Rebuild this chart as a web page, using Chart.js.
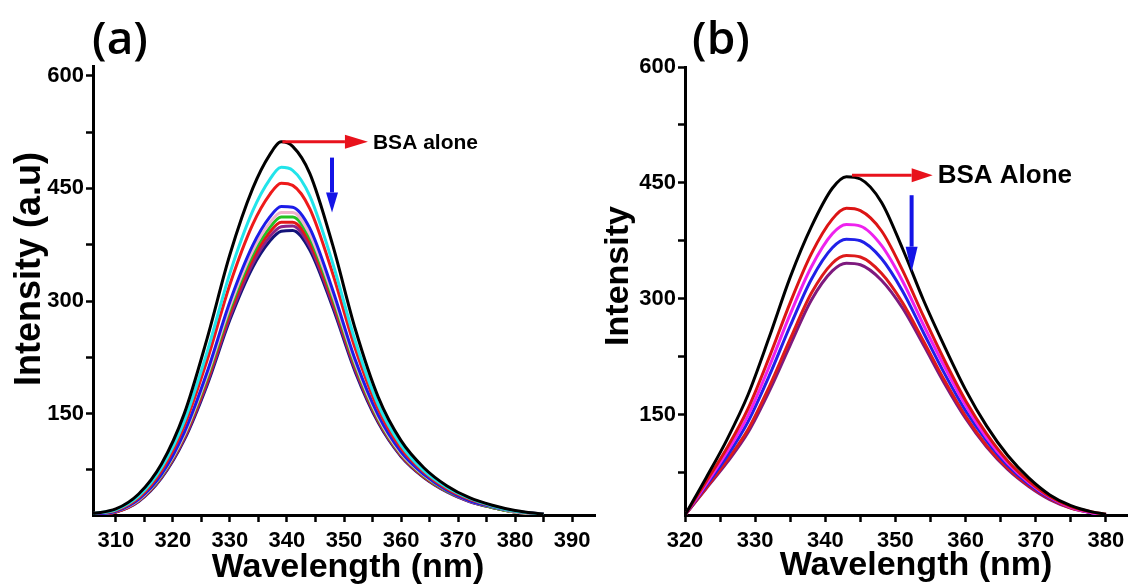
<!DOCTYPE html>
<html><head><meta charset="utf-8">
<script src="https://cdn.jsdelivr.net/npm/chart.js@4.4.1/dist/chart.umd.min.js"></script>
<style>
html,body{margin:0;padding:0;background:#fff;width:1136px;height:587px;overflow:hidden;position:relative}
#ca{position:absolute;left:0;top:0}
#cb{position:absolute;left:576px;top:0}
</style></head><body>
<canvas id="ca" width="600" height="587"></canvas>
<canvas id="cb" width="560" height="587"></canvas>
<script>
// ---------- Panel (a) data ----------
const wlA = [306,310,314,318,322,326,330,334,337,339,341,344,348,352,356,360,364,368,372,376,380,385];
const aBlack  = [17,23,43,83,150,250,362,450,495,512,506,470,375,262,172,114,78,54,38,28,21,16];
const aCyan   = [17,22,40,78,140,232,337,420,462,478,474,440,351,246,162,108,74,52,37,27,20,16];
const aRed    = [17,21,38,74,134,221,322,402,442,457,454,423,337,236,156,104,72,50,36,27,20,16];
const aBlue   = [16,20,36,69,125,205,299,374,412,426,425,397,315,221,148,99,69,48,34,26,20,16];
const aPink   = [16,20,35,68,122,201,293,367,404,418,418,389,309,217,145,97,68,48,34,26,19,16];
const aGreen  = [16,20,35,67,121,198,289,362,398,412,412,384,305,214,143,96,67,47,34,25,19,16];
const aRed2   = [16,19,34,66,119,194,284,356,392,405,405,378,300,211,141,95,66,47,34,25,19,16];
const aPurple = [16,19,34,65,117,191,279,350,386,399,400,373,296,208,140,94,66,46,33,25,19,16];
const aNavy   = [16,19,33,64,115,188,275,345,380,393,394,368,292,205,138,93,65,46,33,25,19,16];
const xTicksA = [310,315,320,325,330,335,340,345,350,355,360,365,370,375,380,385,390];
const yTicksA = [75,150,225,300,375,450,525,600];

// ---------- Panel (b) data ----------
const wlB = [320,323,326,329,332,335,338,341,343,345,348,351,354,357,360,363,366,369,372,375,378,380];
const bBlack   = [20,68,118,176,250,328,393,443,458,455,425,365,298,238,182,135,97,68,46,32,24,21];
const bRed     = [20,63,107,158,224,295,358,403,417,414,388,337,277,220,168,125,90,64,44,31,24,21];
const bMagenta = [20,60,102,149,212,280,341,384,396,394,369,323,266,212,162,120,87,62,43,30,23,20];
const bBlue    = [20,58,96,141,200,265,325,366,377,375,352,310,256,203,155,116,84,60,42,30,23,20];
const bRed3    = [20,55,91,131,186,248,307,346,356,354,333,295,245,194,148,110,81,58,41,29,23,20];
const bPurple  = [20,54,88,127,180,240,298,336,346,344,324,288,240,190,145,108,79,57,40,29,23,20];
const xTicksB = [320,325,330,335,340,345,350,355,360,365,370,375,380];
const yTicksB = [75,150,225,300,375,450,525,600];

// ---------- annotation anchors (data units) ----------
const redArrowA  = [[339.2,512],[354.2,512]];
const blueArrowA = [[347.9,491],[347.9,418]];
const redArrowB  = [[343.8,460],[355.3,460]];
const blueArrowB = [[352.3,434],[352.3,335]];

const FAM = "'Liberation Sans', Arial, sans-serif";

function pts(xs, ys){ return xs.map((x,i)=>({x:x, y:ys[i]})); }
function ds(xs, ys, color){
  return {data: pts(xs, ys), borderColor: color, backgroundColor: color, borderWidth: 3,
          pointRadius: 0, fill: false, cubicInterpolationMode: 'monotone'};
}

function drawArrow(ctx, x1, y1, x2, y2, color, lw, headLen, headW){
  const ang = Math.atan2(y2-y1, x2-x1);
  const bx = x2 - Math.cos(ang)*headLen, by = y2 - Math.sin(ang)*headLen;
  ctx.strokeStyle = color; ctx.fillStyle = color; ctx.lineWidth = lw;
  ctx.beginPath(); ctx.moveTo(x1,y1); ctx.lineTo(bx,by); ctx.stroke();
  const px = -Math.sin(ang)*headW/2, py = Math.cos(ang)*headW/2;
  ctx.beginPath(); ctx.moveTo(x2,y2); ctx.lineTo(bx+px,by+py); ctx.lineTo(bx-px,by-py); ctx.closePath(); ctx.fill();
}

const decor = {
  id: 'decor',
  afterDraw(chart, args, o){
    const ctx = chart.ctx, xs = chart.scales.x, ys = chart.scales.y;
    ctx.save();
    ctx.fillStyle = '#000';
    // panel letter
    ctx.font = "600 46px 'Open Sans', " + FAM;
    ctx.textAlign = 'center'; ctx.textBaseline = 'alphabetic';
    ctx.fillText(o.panel, o.panelX, o.panelY);
    // x title
    ctx.font = 'bold 34px ' + FAM;
    ctx.fillText(o.xTitle, o.xTitleX, o.xTitleY);
    // y title
    ctx.save();
    ctx.translate(o.yTitleX, o.yTitleY);
    ctx.rotate(-Math.PI/2);
    ctx.font = 'bold ' + o.yTitleSize + 'px ' + FAM;
    ctx.textAlign = 'center'; ctx.textBaseline = 'alphabetic';
    ctx.fillText(o.yTitle, 0, 0);
    ctx.restore();
    // arrows
    const r = o.red, b = o.blue;
    const rx1 = xs.getPixelForValue(r[0][0]), ry1 = ys.getPixelForValue(r[0][1]);
    const rx2 = xs.getPixelForValue(r[1][0]), ry2 = ys.getPixelForValue(r[1][1]);
    drawArrow(ctx, rx1, ry1, rx2, ry2, '#e8121c', 3, o.redHead, 14);
    const bx1 = xs.getPixelForValue(b[0][0]), by1 = ys.getPixelForValue(b[0][1]);
    const bx2 = xs.getPixelForValue(b[1][0]), by2 = ys.getPixelForValue(b[1][1]);
    drawArrow(ctx, bx1, by1, bx2, by2, '#1414e6', 4, o.blueHead, 12);
    // label
    ctx.fillStyle = '#000';
    ctx.font = 'bold ' + o.labelSize + 'px ' + FAM;
    ctx.textAlign = 'left'; ctx.textBaseline = 'middle';
    ctx.fillText(o.label, rx2 + 5, ry2 + 1);
    ctx.restore();
  }
};

function makeChart(id, datasets, cfg){
  return new Chart(document.getElementById(id), {
    type: 'line',
    data: { datasets: datasets },
    plugins: [decor],
    options: {
      responsive: false, animation: false, devicePixelRatio: 1,
      layout: { padding: { top: cfg.top, right: cfg.right, left: 0, bottom: 0 } },
      plugins: { legend: {display:false}, tooltip: {enabled:false}, decor: cfg.decor },
      scales: {
        x: {
          type: 'linear', min: cfg.xMin, max: cfg.xMax,
          afterBuildTicks: s => { s.ticks = cfg.xTicks.map(v => ({value: v})); },
          afterFit: s => { s.height = 72; },
          ticks: { autoSkip: false, maxRotation: 0, padding: 6, color: '#000',
                   font: {family: FAM, size: 22, weight: 'bold'},
                   callback: v => (v % 10 === 0 ? String(v) : '') },
          grid: { drawOnChartArea: false, drawTicks: true, tickLength: 7, tickWidth: 2.5, tickColor: '#000' },
          border: { display: true, width: 3, color: '#000' },
          title: { display: false }
        },
        y: {
          min: cfg.yMin, max: cfg.yMax,
          afterBuildTicks: s => { s.ticks = cfg.yTicks.map(v => ({value: v})); },
          afterFit: s => { s.width = cfg.yWidth; },
          ticks: { padding: 2, color: '#000', font: {family: FAM, size: 22, weight: 'bold'},
                   callback: v => (v % 150 === 0 ? String(v) : '') },
          grid: { drawOnChartArea: false, drawTicks: true, tickLength: 7, tickWidth: 2.5, tickColor: '#000' },
          border: { display: true, width: 3, color: '#000' },
          title: { display: false }
        }
      }
    }
  });
}

makeChart('ca', [
  ds(wlA, aBlack, '#000000'),
  ds(wlA, aCyan, '#22e4ea'),
  ds(wlA, aRed, '#ee1a1a'),
  ds(wlA, aBlue, '#1c1ce8'),
  ds(wlA, aPink, '#f0b4cc'),
  ds(wlA, aGreen, '#22c222'),
  ds(wlA, aRed2, '#e21818'),
  ds(wlA, aPurple, '#8a2488'),
  ds(wlA, aNavy, '#14147a')
], {
  top: 66, right: 5, yWidth: 93, xMin: 306, xMax: 394, yMin: 15, yMax: 613,
  xTicks: xTicksA, yTicks: yTicksA,
  decor: { panel: '(a)', panelX: 120, panelY: 54,
           xTitle: 'Wavelength (nm)', xTitleX: 348, xTitleY: 577,
           yTitle: 'Intensity (a.u)', yTitleX: 40, yTitleY: 269, yTitleSize: 36,
           red: redArrowA, blue: blueArrowA, redHead: 23, blueHead: 20,
           label: 'BSA alone', labelSize: 21 }
});

makeChart('cb', [
  ds(wlB, bBlack, '#000000'),
  ds(wlB, bRed, '#dc1414'),
  ds(wlB, bMagenta, '#ee22ee'),
  ds(wlB, bBlue, '#2020e8'),
  ds(wlB, bRed3, '#dd1a1a'),
  ds(wlB, bPurple, '#7e1a7e')
], {
  top: 67, right: 9, yWidth: 109, xMin: 320, xMax: 383, yMin: 20, yMax: 600,
  xTicks: xTicksB, yTicks: yTicksB,
  decor: { panel: '(b)', panelX: 145, panelY: 54,
           xTitle: 'Wavelength (nm)', xTitleX: 340, xTitleY: 575,
           yTitle: 'Intensity', yTitleX: 52, yTitleY: 276, yTitleSize: 34,
           red: redArrowB, blue: blueArrowB, redHead: 21, blueHead: 25,
           label: 'BSA Alone', labelSize: 26 }
});
</script>
</body></html>
